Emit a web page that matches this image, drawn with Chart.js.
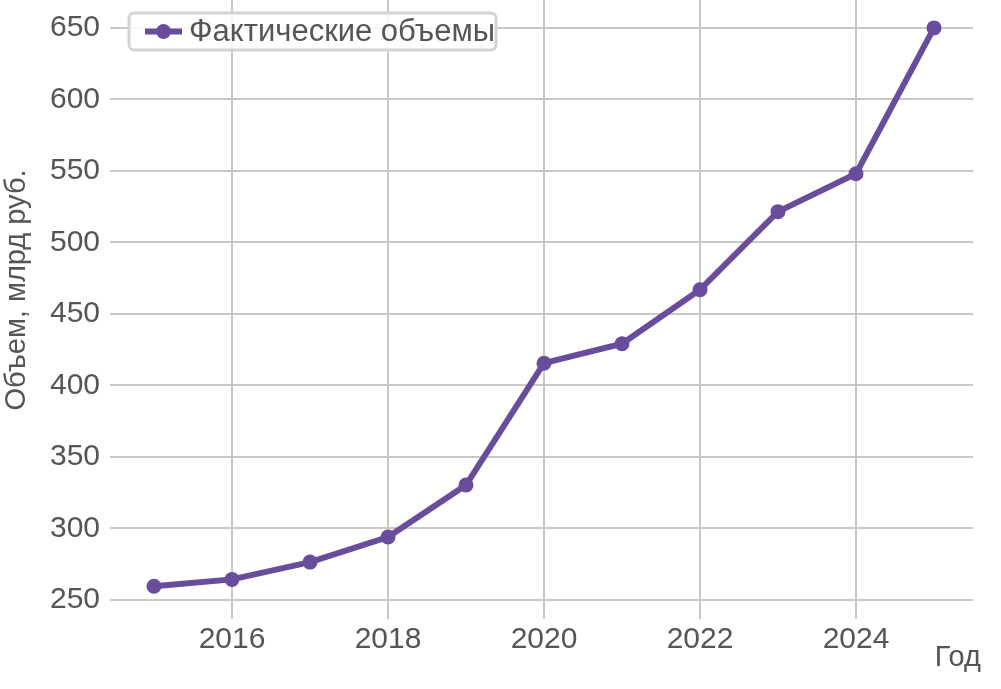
<!DOCTYPE html>
<html>
<head>
<meta charset="utf-8">
<script src="https://cdn.jsdelivr.net/npm/chart.js@4/dist/chart.umd.min.js"></script>
<style>
  html, body { margin: 0; padding: 0; background: #fff; }
  #wrap { width: 1001px; height: 689px; position: relative; }
</style>
</head>
<body>
<div id="wrap"><canvas id="chart"></canvas></div>
<script>
// Data
const years   = [2015, 2016, 2017, 2018, 2019, 2020, 2021, 2022, 2023, 2024, 2025];
const volumes = [259.5, 264.3, 276.4, 293.9, 330.3, 415.5, 429.1, 466.9, 521.5, 548.0, 650.0];
const xTicks  = [2016, 2018, 2020, 2022, 2024];
const yTicks  = [250, 300, 350, 400, 450, 500, 550, 600, 650];

const SERIES_LABEL = 'Фактические объемы';
const X_TITLE = 'Год';
const Y_TITLE = 'Объем, млрд руб.';

const FONT   = '"Liberation Sans", Arial, sans-serif';
const TEXT   = '#555555';
const GRID   = '#c8c8c8';
const PURPLE = '#6a4c9c';

// legend inside the plot + axis titles placed like the reference
const overlay = {
  id: 'overlay',
  afterDraw(chart) {
    const ctx = chart.ctx;
    ctx.save();

    // legend box
    const bx = 129, by = 13, bw = 367, bh = 37;
    ctx.fillStyle = 'rgba(255,255,255,0.85)';
    ctx.strokeStyle = '#d3d3d3';
    ctx.lineWidth = 3;
    ctx.beginPath();
    ctx.roundRect(bx, by, bw, bh, 5);
    ctx.fill();
    ctx.stroke();

    const ly = by + bh / 2;
    ctx.strokeStyle = PURPLE;
    ctx.lineWidth = 6;
    ctx.beginPath();
    ctx.moveTo(145, ly);
    ctx.lineTo(182, ly);
    ctx.stroke();
    ctx.fillStyle = PURPLE;
    ctx.beginPath();
    ctx.arc(163.5, ly, 7.5, 0, Math.PI * 2);
    ctx.fill();

    ctx.fillStyle = TEXT;
    ctx.font = '31px ' + FONT;
    ctx.textAlign = 'left';
    ctx.textBaseline = 'middle';
    ctx.fillText(SERIES_LABEL, 189, ly + 1);

    // x title
    ctx.font = '29px ' + FONT;
    ctx.textAlign = 'right';
    ctx.textBaseline = 'alphabetic';
    ctx.fillText(X_TITLE, 981, 666);

    // y title
    ctx.translate(25, 290);
    ctx.rotate(-Math.PI / 2);
    ctx.textAlign = 'center';
    ctx.fillText(Y_TITLE, 0, 0);

    ctx.restore();
  }
};

new Chart(document.getElementById('chart'), {
  type: 'line',
  data: {
    datasets: [{
      label: SERIES_LABEL,
      data: years.map((y, i) => ({ x: y, y: volumes[i] })),
      borderColor: PURPLE,
      backgroundColor: PURPLE,
      borderWidth: 6,
      pointRadius: 7.5,
      pointBorderWidth: 0,
      pointHoverRadius: 7.5,
      tension: 0,
      clip: false,
    }],
  },
  options: {
    responsive: true,
    maintainAspectRatio: false,
    animation: false,
    layout: { autoPadding: false, padding: { top: 0, right: 28, left: 0, bottom: 0 } },
    plugins: {
      legend: { display: false },
      tooltip: { enabled: false },
    },
    scales: {
      x: {
        type: 'linear',
        min: 2014.5,
        max: 2025.5,
        afterBuildTicks(scale) { scale.ticks = xTicks.map(v => ({ value: v })); },
        afterFit(scale) {
          scale.height = 75;
          scale.paddingLeft = 0; scale.paddingRight = 0;
          scale.paddingTop = 0; scale.paddingBottom = 0;
        },
        border: { display: false },
        grid: { color: GRID, lineWidth: 2, tickLength: 5, drawTicks: true },
        ticks: {
          font: { size: 30, family: FONT },
          color: TEXT,
          padding: 3,
          maxRotation: 0,
          callback: v => String(v),
        },
      },
      y: {
        min: 240.1,
        max: 669.5,
        afterBuildTicks(scale) { scale.ticks = yTicks.map(v => ({ value: v })); },
        afterFit(scale) {
          scale.width = 115;
          scale.paddingTop = 0; scale.paddingBottom = 0;
          scale.paddingLeft = 0; scale.paddingRight = 0;
        },
        border: { display: false },
        grid: { color: GRID, lineWidth: 2, tickLength: 5, drawTicks: true },
        ticks: {
          font: { size: 30, family: FONT },
          color: TEXT,
          padding: 10,
          callback: v => String(v),
        },
      },
    },
  },
  plugins: [overlay],
});
</script>
</body>
</html>
